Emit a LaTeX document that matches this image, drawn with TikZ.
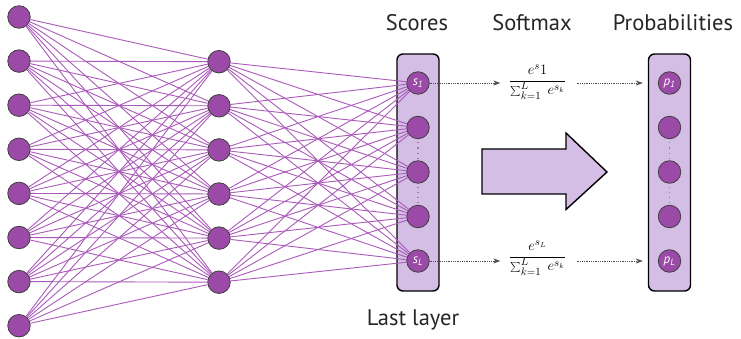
\documentclass[tikz,border=0pt]{standalone}
\usepackage{fontspec}
\setmainfont{PT Sans}
\usetikzlibrary{arrows.meta}
\definecolor{nodefill}{HTML}{9C4AA8}
\definecolor{edgecol}{HTML}{AA5ABA}
\definecolor{boxfill}{HTML}{D4BEE6}
\pgfdeclarelayer{bg}
\pgfdeclarelayer{edges}
\pgfsetlayers{bg,edges,main}
\tikzset{
 neuron/.style={circle, draw=black!75, fill=nodefill, line width=0.8pt, minimum size=22.5pt, inner sep=0pt, text=white, font=\fontsize{13}{13}\selectfont},
 edge/.style={draw=edgecol, line width=0.9pt},
 layerbox/.style={draw=black, line width=1.4pt, fill=boxfill, rounded corners=6pt, minimum width=42pt, minimum height=237pt, inner sep=0pt},
 title/.style={font=\fontsize{22.5}{22.5}\selectfont, text=black!85, anchor=base, inner sep=0pt},
 frac/.style={fill=white, inner sep=1.5pt, font=\fontsize{15}{15}\selectfont},
 flow/.style={draw=black!70, densely dotted, line width=0.8pt, -{Stealth[length=7pt,width=5pt]}},
 vdots/.style={draw=nodefill!80, line width=1.1pt, dash pattern=on 1.2pt off 4pt, shorten <=3pt, shorten >=2pt},
 bigarrow/.style={draw=black, line width=1.4pt, fill=boxfill, line join=miter}
}
\begin{document}
\begin{tikzpicture}[x=1pt,y=-1pt]
\begin{pgfonlayer}{bg}
\fill[white] (0,0) rectangle (741,339);
\end{pgfonlayer}
\useasboundingbox (0,0) rectangle (741,339);
% layer boxes
\begin{pgfonlayer}{bg}
\node[layerbox] (sbox) at (418,172.5) {};
\node[layerbox] (pbox) at (669.5,172.5) {};
\end{pgfonlayer}
% input layer
\foreach \i in {1,...,8} \node[neuron] (a\i) at (19,{17+(\i-1)*44.1}) {};
% hidden layer
\foreach \j in {1,...,6} \node[neuron] (b\j) at (219,{61.7+(\j-1)*44.1}) {};
% score layer
\node[neuron] (s1) at (418,83) {\itshape s\textsubscript{1}};
\node[neuron] (s2) at (418,127.5) {};
\node[neuron] (s3) at (418,172) {};
\node[neuron] (s4) at (418,216.5) {};
\node[neuron] (s5) at (418,261) {\itshape s\textsubscript{L}};
% probability layer
\node[neuron] (p1) at (669.5,83) {\itshape p\textsubscript{1}};
\node[neuron] (p2) at (669.5,127.5) {};
\node[neuron] (p3) at (669.5,172) {};
\node[neuron] (p4) at (669.5,216.5) {};
\node[neuron] (p5) at (669.5,261) {\itshape p\textsubscript{L}};
% edges
\begin{pgfonlayer}{edges}
\foreach \i in {1,...,8} \foreach \j in {1,...,6} \draw[edge] (a\i) -- (b\j);
\foreach \j in {1,...,6} \foreach \k in {1,...,5} \draw[edge] (b\j) -- (s\k);
\end{pgfonlayer}
% vertical dots
\draw[vdots] (s2.south) -- (s3.north);
\draw[vdots] (s3.south) -- (s4.north);
\draw[vdots] (p2.south) -- (p3.north);
\draw[vdots] (p3.south) -- (p4.north);
% softmax fractions
\node[frac] (f1) at (537.5,82) {$\displaystyle\frac{e^{s}1}{\sum_{k=1}^{L}\;e^{s_k}}$};
\node[frac] (f2) at (537.5,258) {$\displaystyle\frac{e^{s_L}}{\sum_{k=1}^{L}\;e^{s_k}}$};
\draw[flow, shorten >=7pt] (s1.east) -- (s1.east -| f1.west);
\draw[flow, shorten >=7pt] (s5.east) -- (s5.east -| f2.west);
\draw[flow, shorten <=9pt, shorten >=5pt] (s1 -| f1.east) -- (s1 -| pbox.west);
\draw[flow, shorten <=9pt, shorten >=5pt] (s5 -| f2.east) -- (s5 -| pbox.west);
% big arrow
\draw[bigarrow] (482,149) -- (566,149) -- (566,133) -- (607,172) -- (566,209.5) -- (566,194) -- (482,194) -- cycle;
% titles
\node[title] (tscores) at (417,30.7) {Scores};
\node[title] (tsoft) at (532,30.7) {Softmax};
\node[title] (tprob) at (673,30.7) {Probabilities};
\node[title] (tlast) at (413,325.7) {Last layer};
\end{tikzpicture}
\end{document}
